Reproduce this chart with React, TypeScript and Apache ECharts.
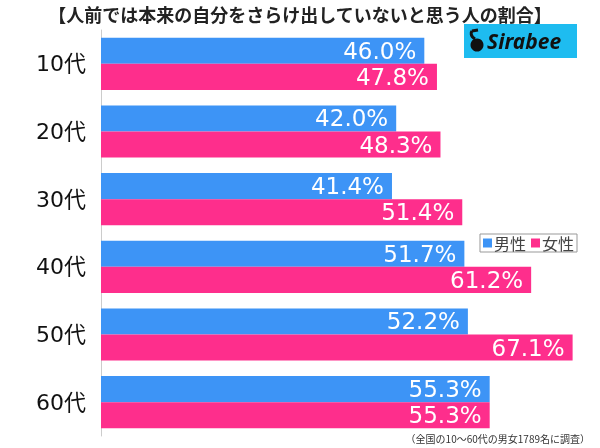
import React, { useEffect, useRef } from "react";
import * as echarts from "echarts";

const categories = ["10代", "20代", "30代", "40代", "50代", "60代"];
const maleValues = [46.0, 42.0, 41.4, 51.7, 52.2, 55.3];
const femaleValues = [47.8, 48.3, 51.4, 61.2, 67.1, 55.3];
const seriesNames = ["男性", "女性"];
const titleText = "【人前では本来の自分をさらけ出していないと思う人の割合】";
const footnoteText = "（全国の10～60代の男女1789名に調査）";

const BLUE = "#3d94f6";
const PINK = "#fe2e8c";
const FONT = "'Noto Sans CJK JP', 'Noto Sans', sans-serif";
const NUMFONT = "'DejaVu Sans', 'Noto Sans CJK JP', sans-serif";

export default function App() {
  const ref = useRef<HTMLDivElement>(null);
  useEffect(() => {
    if (!ref.current) return;
    const chart = echarts.init(ref.current, null, { renderer: "svg" });
    const label = {
      show: true,
      position: "insideRight",
      color: "#fff",
      fontSize: 23,
      fontFamily: NUMFONT,
      distance: 8,
      formatter: (p: any) => p.value.toFixed(1) + "%",
    };
    chart.setOption({
      animation: false,
      textStyle: { fontFamily: FONT },
      title: {
        text: titleText,
        left: "center",
        top: 0,
        textStyle: { fontSize: 18, fontWeight: "bold", color: "#222", fontFamily: FONT },
      },
      legend: {
        data: seriesNames,
        right: 23,
        top: 234,
        orient: "horizontal",
        icon: "rect",
        itemWidth: 9,
        itemHeight: 9,
        itemGap: 5,
        padding: [1, 3, 1, 3],
        borderColor: "#999",
        borderWidth: 1,
        textStyle: { fontSize: 16, color: "#444", fontFamily: FONT, padding: [0, 0, 0, -3] },
      },
      grid: { left: 101, top: 30, width: 492, height: 406, containLabel: false },
      xAxis: {
        type: "value",
        min: 0,
        max: 70,
        show: false,
      },
      yAxis: {
        type: "category",
        data: categories,
        inverse: true,
        axisLine: { show: true, lineStyle: { color: "#ccc", width: 1 } },
        axisTick: { show: false },
        axisLabel: { fontSize: 22, color: "#111", margin: 15, fontFamily: NUMFONT },
      },
      series: [
        {
          name: seriesNames[0],
          type: "bar",
          data: maleValues,
          itemStyle: { color: BLUE },
          barGap: "0%",
          barCategoryGap: "23%",
          label,
        },
        {
          name: seriesNames[1],
          type: "bar",
          data: femaleValues,
          itemStyle: { color: PINK },
          barGap: "0%",
          barCategoryGap: "23%",
          label,
        },
      ],
      graphic: [
        {
          type: "rect",
          shape: { x: 464, y: 24, width: 113, height: 34 },
          style: { fill: "#1ebcf0" },
        },
        {
          type: "circle",
          shape: { cx: 477, cy: 45, r: 6.5 },
          style: { fill: "#111" },
        },
        {
          type: "bezierCurve",
          shape: { x1: 475, y1: 39, x2: 472, y2: 31, cpx1: 470, cpy1: 36, cpx2: 471, cpy2: 32 },
          style: { stroke: "#111", lineWidth: 3, fill: "none" },
        },
        {
          type: "line",
          shape: { x1: 472, y1: 31, x2: 478, y2: 30 },
          style: { stroke: "#111", lineWidth: 3 },
        },
        {
          type: "text",
          x: 487,
          y: 30,
          style: {
            text: "Sirabee",
            fontSize: 21,
            fontWeight: "bold",
            fontStyle: "italic",
            fill: "#111",
            fontFamily: "'Noto Sans', sans-serif",
          },
        },
        {
          type: "text",
          right: 10,
          top: 433,
          style: { text: footnoteText, fontSize: 10, fill: "#333", fontFamily: FONT },
        },
      ],
    });
    return () => chart.dispose();
  }, []);
  return (
    <div
      ref={ref}
      style={{ position: "fixed", left: 0, top: 0, width: 600, height: 448 }}
    />
  );
}
